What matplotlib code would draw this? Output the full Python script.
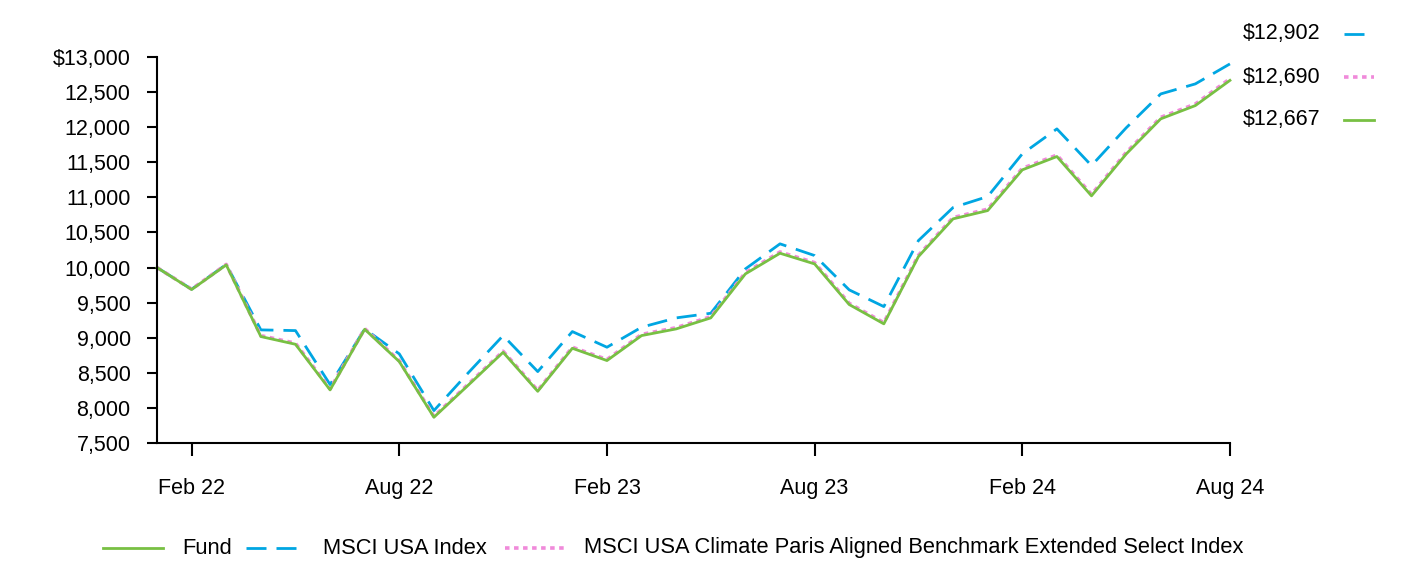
import matplotlib.pyplot as plt
from matplotlib.lines import Line2D
from matplotlib.ticker import FuncFormatter

# monthly values, Jan 22 .. Aug 24 (growth of $10,000)
months = ["Jan 22", "Feb 22", "Mar 22", "Apr 22", "May 22", "Jun 22", "Jul 22", "Aug 22",
          "Sep 22", "Oct 22", "Nov 22", "Dec 22", "Jan 23", "Feb 23", "Mar 23", "Apr 23",
          "May 23", "Jun 23", "Jul 23", "Aug 23", "Sep 23", "Oct 23", "Nov 23", "Dec 23",
          "Jan 24", "Feb 24", "Mar 24", "Apr 24", "May 24", "Jun 24", "Jul 24", "Aug 24"]
fund = [10000, 9687, 10038, 9017, 8907, 8257, 9121, 8660, 7867, 8328, 8793, 8237,
        8850, 8675, 9031, 9126, 9283, 9910, 10204, 10052, 9473, 9198, 10157, 10694,
        10812, 11392, 11582, 11022, 11617, 12119, 12308, 12667]
msci_usa = [10000, 9692, 10045, 9112, 9102, 8333, 9125, 8770, 7962, 8504, 9031, 8518,
            9088, 8865, 9150, 9283, 9349, 9981, 10338, 10171, 9682, 9444, 10385, 10855,
            11012, 11620, 11976, 11453, 11990, 12474, 12617, 12902]
paris = [10000, 9692, 10045, 9030, 8922, 8270, 9130, 8672, 7880, 8342, 8808, 8250,
         8865, 8690, 9048, 9143, 9300, 9928, 10222, 10070, 9490, 9215, 10175, 10712,
         10832, 11413, 11603, 11042, 11638, 12140, 12330, 12690]
tick_labels = ["Feb 22", "Aug 22", "Feb 23", "Aug 23", "Feb 24", "Aug 24"]
end_labels = ["$12,902", "$12,690", "$12,667"]

GREEN = "#78C043"
BLUE = "#00A6E2"
PINK = "#F08ADA"

plt.rcParams['font.family'] = ['Liberation Sans', 'DejaVu Sans']
FS = 15.5
LFS = 15.75

fig = plt.figure(figsize=(14.16, 5.64), dpi=100)
ax = fig.add_axes([0.1109, 0.2145, 0.7577, 0.6844])

blue_st = dict(color=BLUE, lw=2.0, dashes=(7.2, 3.6))
pink_st = dict(color=PINK, lw=2.6, dashes=(1.25, 1.25))
green_st = dict(color=GREEN, lw=2.0)

x = list(range(len(months)))
ax.plot(x, msci_usa, clip_on=False, **blue_st)
ax.plot(x, paris, clip_on=False, **pink_st)
ax.plot(x, fund, clip_on=False, **green_st)

ax.set_xlim(0, len(months) - 1)
ax.set_ylim(7500, 13000)
ax.set_yticks(range(7500, 13001, 500))
ax.yaxis.set_major_formatter(FuncFormatter(
    lambda v, p: f"${v:,.0f}" if v == 13000 else f"{v:,.0f}"))
ax.set_xticks([months.index(t) for t in tick_labels])
ax.set_xticklabels(tick_labels)

for s in ["top", "right"]:
    ax.spines[s].set_visible(False)
for s in ["left", "bottom"]:
    ax.spines[s].set_linewidth(1.5)
ax.tick_params(axis='y', length=7, width=1.5, pad=12, labelsize=FS)
ax.tick_params(axis='x', length=9, width=1.5, pad=16, labelsize=FS)

# end-value labels on the right
W, H = 1416, 564
end_y = [34, 77, 120]
for lab, yy, st, x1 in zip(end_labels, end_y, [blue_st, pink_st, green_st], [1366, 1374, 1374]):
    fig.text(1243 / W, 1 - yy / H, lab, fontsize=FS, va='center', ha='left')
    fig.add_artist(Line2D([1344 / W, x1 / W], [1 - yy / H, 1 - yy / H], **st))

# legend at bottom
leg_y = 1 - 548 / H
leg = [("Fund", 103, 163, 182, green_st),
       ("MSCI USA Index", 246, 296, 323, blue_st),
       ("MSCI USA Climate Paris Aligned Benchmark Extended Select Index", 505, 566, 584, pink_st)]
for lab, x0, x1, xt, st in leg:
    fig.add_artist(Line2D([x0 / W, x1 / W], [leg_y, leg_y], **st))
    fig.text(xt / W, leg_y, lab, fontsize=LFS, va='center', ha='left')

fig.savefig("out.png", dpi=100)
